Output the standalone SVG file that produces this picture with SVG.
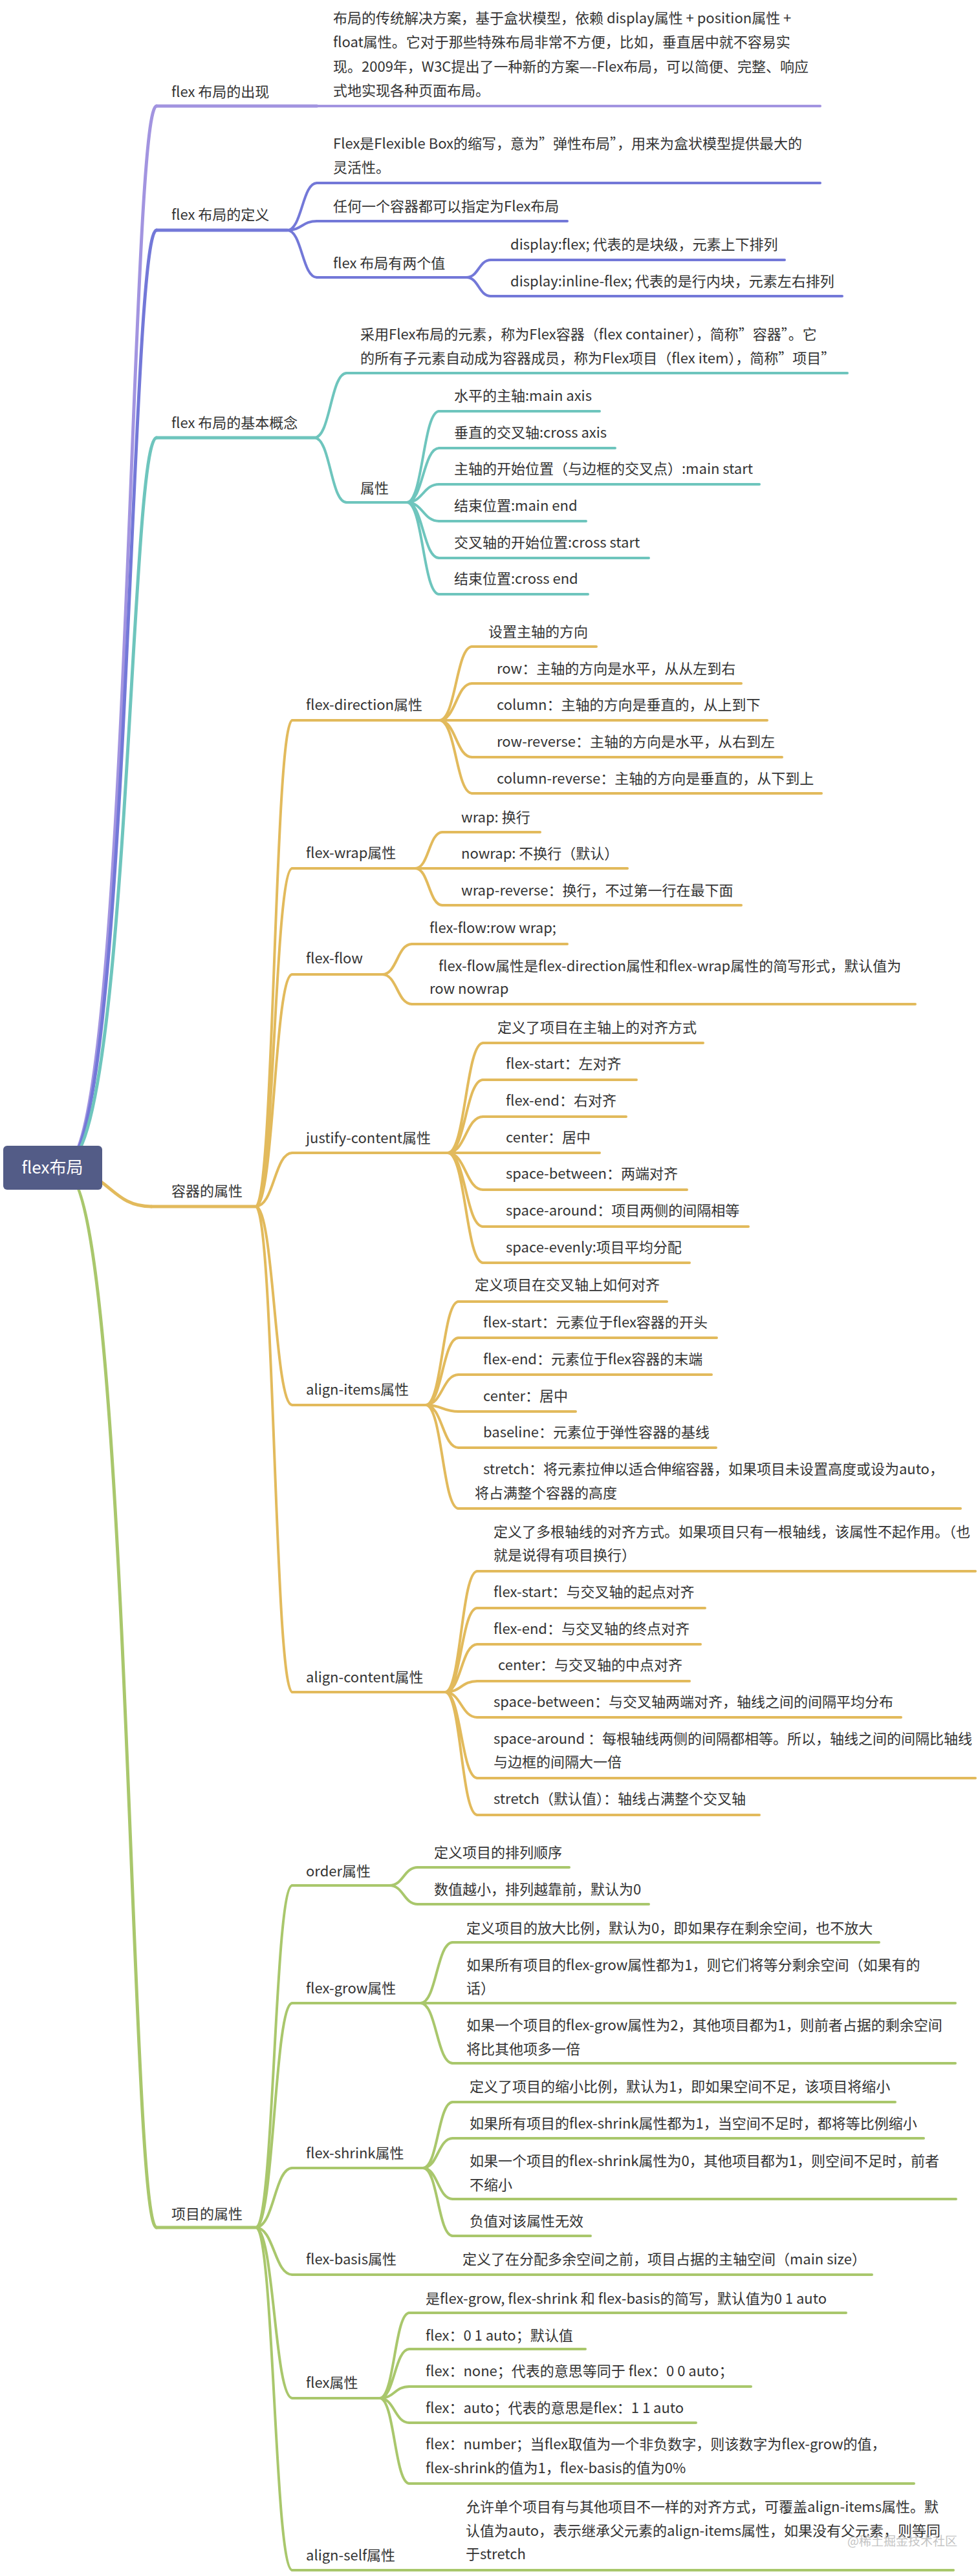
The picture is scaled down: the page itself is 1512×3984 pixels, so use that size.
<svg xmlns="http://www.w3.org/2000/svg" width="1512" height="3984" viewBox="0 0 1512 3984">
<style>
text{font-family:"Noto Sans CJK SC","Liberation Sans",sans-serif;font-size:22px;fill:#333}
.u,.k{fill:none;stroke-width:4;stroke-linecap:round}
.p{stroke:#a294e0}.b{stroke:#7378d8}.t{stroke:#6ec5bd}.g{stroke:#e2ba5c}.n{stroke:#a9c76c}
.L{stroke-width:5}
.wm{font-size:19px;fill:#c4c4c4}
</style>
<rect width="1512" height="3984" fill="#fff"/>
<g id="connectors">
<path class="k L p" d="M100 1800C200 1800 200 164 242 164"/>
<path class="k L b" d="M100 1800C200 1800 200 356 242 356"/>
<path class="k L t" d="M100 1800C200 1800 200 677 242 677"/>
<path class="k L g" d="M100 1810C170 1810 170 1866 234 1866"/>
<path class="k L n" d="M100 1812C200 1812 200 3445 242 3445"/>
<path class="k b" d="M444 356C467 356 467 283 490 283M444 356C467 356 467 342 490 342M444 356C467 356 467 429 490 429"/>
<path class="k b" d="M721 429C740 429 740 402 759 402M721 429C740 429 740 458 759 458"/>
<path class="k t" d="M486 677C511 677 511 577 536 577M486 677C511 677 511 777 536 777"/>
<path class="k t" d="M629 777C654 777 654 636 679 636M629 777C654 777 654 693 679 693M629 777C654 777 654 749 679 749M629 777C654 777 654 806 679 806M629 777C654 777 654 863 679 863M629 777C654 777 654 919 679 919"/>
<path class="k g" d="M395 1866C424 1866 424 1114 452 1114M395 1866C424 1866 424 1343 452 1343M395 1866C424 1866 424 1507 452 1507M395 1866C424 1866 424 1783 452 1783M395 1866C424 1866 424 2173 452 2173M395 1866C424 1866 424 2617 452 2617"/>
<path class="k g" d="M679 1114C705 1114 705 1000 730 1000M679 1114C705 1114 705 1057 730 1057M679 1114C705 1114 705 1171 730 1171M679 1114C705 1114 705 1227 730 1227"/>
<path class="k g" d="M642 1343C663 1343 663 1287 684 1287M642 1343C663 1343 663 1400 684 1400"/>
<path class="k g" d="M591 1507C614 1507 614 1460 637 1460M591 1507C614 1507 614 1553 637 1553"/>
<path class="k g" d="M692 1783C720 1783 720 1613 747 1613M692 1783C720 1783 720 1670 747 1670M692 1783C720 1783 720 1727 747 1727M692 1783C720 1783 720 1840 747 1840M692 1783C720 1783 720 1897 747 1897M692 1783C720 1783 720 1953 747 1953"/>
<path class="k g" d="M658 2173C684 2173 684 2013 709 2013M658 2173C684 2173 684 2069 709 2069M658 2173C684 2173 684 2126 709 2126M658 2173C684 2173 684 2183 709 2183M658 2173C684 2173 684 2239 709 2239M658 2173C684 2173 684 2333 709 2333"/>
<path class="k g" d="M688 2617C713 2617 713 2430 738 2430M688 2617C713 2617 713 2487 738 2487M688 2617C713 2617 713 2543 738 2543M688 2617C713 2617 713 2600 738 2600M688 2617C713 2617 713 2656 738 2656M688 2617C713 2617 713 2750 738 2750M688 2617C713 2617 713 2807 738 2807"/>
<path class="k n" d="M395 3445C424 3445 424 2916 452 2916M395 3445C424 3445 424 3098 452 3098M395 3445C424 3445 424 3353 452 3353M395 3445C424 3445 424 3518 452 3518M395 3445C424 3445 424 3709 452 3709M395 3445C424 3445 424 3975 452 3975"/>
<path class="k n" d="M602 2916C624 2916 624 2888 646 2888M602 2916C624 2916 624 2945 646 2945"/>
<path class="k n" d="M650 3098C675 3098 675 3004 700 3004M650 3098C675 3098 675 3191 700 3191"/>
<path class="k n" d="M654 3353C677 3353 677 3251 700 3251M654 3353C677 3353 677 3307 700 3307M654 3353C677 3353 677 3401 700 3401M654 3353C677 3353 677 3458 700 3458"/>
<path class="k n" d="M587 3709C610 3709 610 3577 633 3577M587 3709C610 3709 610 3633 633 3633M587 3709C610 3709 610 3691 633 3691M587 3709C610 3709 610 3747 633 3747M587 3709C610 3709 610 3841 633 3841"/>
</g>
<g id="root">
<rect x="5" y="1772" width="153" height="68" rx="6" fill="#535c87"/>
<text x="81" y="1815" text-anchor="middle" style="fill:#fff;font-size:26px">flex布局</text>
</g>
<g id="n1"><text x="265" y="150">flex 布局的出现</text><path class="u L p" d="M242 164H490"/></g>
<g id="n1-1"><text x="515" y="36">布局的传统解决方案，基于盒状模型，依赖 display属性 + position属性 +</text><text x="515" y="73">float属性。它对于那些特殊布局非常不方便，比如，垂直居中就不容易实</text><text x="515" y="111">现。2009年，W3C提出了一种新的方案—-Flex布局，可以简便、完整、响应</text><text x="515" y="148">式地实现各种页面布局。</text><path class="u p" d="M490 164H1268"/></g>
<g id="n2"><text x="265" y="340">flex 布局的定义</text><path class="u L b" d="M242 356H444"/></g>
<g id="n2-1"><text x="515" y="230">Flex是Flexible Box的缩写，意为”弹性布局”，用来为盒状模型提供最大的</text><text x="515" y="267">灵活性。</text><path class="u b" d="M490 283H1268"/></g>
<g id="n2-2"><text x="515" y="327">任何一个容器都可以指定为Flex布局</text><path class="u b" d="M490 342H877"/></g>
<g id="n2-3"><text x="515" y="415">flex 布局有两个值</text><path class="u b" d="M490 429H721"/></g>
<g id="n2-3-1"><text x="789" y="386">display:flex; 代表的是块级，元素上下排列</text><path class="u b" d="M759 402H1213"/></g>
<g id="n2-3-2"><text x="789" y="443">display:inline-flex; 代表的是行内块，元素左右排列</text><path class="u b" d="M759 458H1302"/></g>
<g id="n3"><text x="265" y="662">flex 布局的基本概念</text><path class="u L t" d="M242 677H486"/></g>
<g id="n3-1"><text x="557" y="525">采用Flex布局的元素，称为Flex容器（flex container），简称”容器”。它</text><text x="557" y="562">的所有子元素自动成为容器成员，称为Flex项目（flex item），简称”项目”</text><path class="u t" d="M536 577H1310"/></g>
<g id="n3-2"><text x="557" y="763">属性</text><path class="u t" d="M536 777H629"/></g>
<g id="n3-2-1"><text x="702" y="620">水平的主轴:main axis</text><path class="u t" d="M679 636H927"/></g>
<g id="n3-2-2"><text x="702" y="677">垂直的交叉轴:cross axis</text><path class="u t" d="M679 693H951"/></g>
<g id="n3-2-3"><text x="702" y="733">主轴的开始位置（与边框的交叉点）:main start</text><path class="u t" d="M679 749H1174"/></g>
<g id="n3-2-4"><text x="702" y="790">结束位置:main end</text><path class="u t" d="M679 806H906"/></g>
<g id="n3-2-5"><text x="702" y="847">交叉轴的开始位置:cross start</text><path class="u t" d="M679 863H1003"/></g>
<g id="n3-2-6"><text x="702" y="903">结束位置:cross end</text><path class="u t" d="M679 919H909"/></g>
<g id="n4"><text x="265" y="1850">容器的属性</text><path class="u L g" d="M234 1866H395"/></g>
<g id="n4-1"><text x="473" y="1098">flex-direction属性</text><path class="u g" d="M452 1114H679"/></g>
<g id="n4-1-1"><text x="755" y="985">设置主轴的方向</text><path class="u g" d="M730 1000H922"/></g>
<g id="n4-1-2"><text x="768" y="1042">row：主轴的方向是水平，从从左到右</text><path class="u g" d="M730 1057H1146"/></g>
<g id="n4-1-3"><text x="768" y="1098">column：主轴的方向是垂直的，从上到下</text><path class="u g" d="M679 1114H1186"/></g>
<g id="n4-1-4"><text x="768" y="1155">row-reverse：主轴的方向是水平，从右到左</text><path class="u g" d="M730 1171H1209"/></g>
<g id="n4-1-5"><text x="768" y="1212">column-reverse：主轴的方向是垂直的，从下到上</text><path class="u g" d="M730 1227H1270"/></g>
<g id="n4-2"><text x="473" y="1327">flex-wrap属性</text><path class="u g" d="M452 1343H642"/></g>
<g id="n4-2-1"><text x="713" y="1272">wrap: 换行</text><path class="u g" d="M684 1287H835"/></g>
<g id="n4-2-2"><text x="713" y="1328">nowrap: 不换行（默认）</text><path class="u g" d="M642 1343H970"/></g>
<g id="n4-2-3"><text x="713" y="1385">wrap-reverse：换行，不过第一行在最下面</text><path class="u g" d="M684 1400H1146"/></g>
<g id="n4-3"><text x="473" y="1490">flex-flow</text><path class="u g" d="M452 1507H591"/></g>
<g id="n4-3-1"><text x="664" y="1443">flex-flow:row wrap;</text><path class="u g" d="M637 1460H877"/></g>
<g id="n4-3-2"><text x="678" y="1502">flex-flow属性是flex-direction属性和flex-wrap属性的简写形式，默认值为</text><text x="664" y="1537">row nowrap</text><path class="u g" d="M637 1553H1415"/></g>
<g id="n4-4"><text x="473" y="1768">justify-content属性</text><path class="u g" d="M452 1783H692"/></g>
<g id="n4-4-1"><text x="769" y="1597">定义了项目在主轴上的对齐方式</text><path class="u g" d="M747 1613H1087"/></g>
<g id="n4-4-2"><text x="782" y="1653">flex-start：左对齐</text><path class="u g" d="M747 1670H984"/></g>
<g id="n4-4-3"><text x="782" y="1710">flex-end：右对齐</text><path class="u g" d="M747 1727H968"/></g>
<g id="n4-4-4"><text x="782" y="1767">center：居中</text><path class="u g" d="M692 1783H927"/></g>
<g id="n4-4-5"><text x="782" y="1823">space-between：两端对齐</text><path class="u g" d="M747 1840H1062"/></g>
<g id="n4-4-6"><text x="782" y="1880">space-around：项目两侧的间隔相等</text><path class="u g" d="M747 1897H1157"/></g>
<g id="n4-4-7"><text x="782" y="1937">space-evenly:项目平均分配</text><path class="u g" d="M747 1953H1066"/></g>
<g id="n4-5"><text x="473" y="2157">align-items属性</text><path class="u g" d="M452 2173H658"/></g>
<g id="n4-5-1"><text x="734" y="1995">定义项目在交叉轴上如何对齐</text><path class="u g" d="M709 2013H1031"/></g>
<g id="n4-5-2"><text x="747" y="2053">flex-start：元素位于flex容器的开头</text><path class="u g" d="M709 2069H1108"/></g>
<g id="n4-5-3"><text x="747" y="2110">flex-end：元素位于flex容器的末端</text><path class="u g" d="M709 2126H1100"/></g>
<g id="n4-5-4"><text x="747" y="2167">center：居中</text><path class="u g" d="M709 2183H890"/></g>
<g id="n4-5-5"><text x="747" y="2223">baseline：元素位于弹性容器的基线</text><path class="u g" d="M709 2239H1107"/></g>
<g id="n4-5-6"><text x="747" y="2280">stretch：将元素拉伸以适合伸缩容器，如果项目未设置高度或设为auto，</text><text x="734" y="2317">将占满整个容器的高度</text><path class="u g" d="M709 2333H1485"/></g>
<g id="n4-6"><text x="473" y="2602">align-content属性</text><path class="u g" d="M452 2617H688"/></g>
<g id="n4-6-1"><text x="763" y="2377">定义了多根轴线的对齐方式。如果项目只有一根轴线，该属性不起作用。（也</text><text x="763" y="2413">就是说得有项目换行）</text><path class="u g" d="M738 2430H1508"/></g>
<g id="n4-6-2"><text x="763" y="2470">flex-start：与交叉轴的起点对齐</text><path class="u g" d="M738 2487H1090"/></g>
<g id="n4-6-3"><text x="763" y="2527">flex-end：与交叉轴的终点对齐</text><path class="u g" d="M738 2543H1083"/></g>
<g id="n4-6-4"><text x="770" y="2583">center：与交叉轴的中点对齐</text><path class="u g" d="M738 2600H1066"/></g>
<g id="n4-6-5"><text x="763" y="2640">space-between：与交叉轴两端对齐，轴线之间的间隔平均分布</text><path class="u g" d="M738 2656H1393"/></g>
<g id="n4-6-6"><text x="763" y="2697">space-around ：每根轴线两侧的间隔都相等。所以，轴线之间的间隔比轴线</text><text x="763" y="2733">与边框的间隔大一倍</text><path class="u g" d="M738 2750H1508"/></g>
<g id="n4-6-7"><text x="763" y="2790">stretch（默认值）：轴线占满整个交叉轴</text><path class="u g" d="M738 2807H1174"/></g>
<g id="n5"><text x="265" y="3432">项目的属性</text><path class="u L n" d="M242 3445H395"/></g>
<g id="n5-1"><text x="473" y="2902">order属性</text><path class="u n" d="M452 2916H602"/></g>
<g id="n5-1-1"><text x="671" y="2873">定义项目的排列顺序</text><path class="u n" d="M646 2888H880"/></g>
<g id="n5-1-2"><text x="671" y="2930">数值越小，排列越靠前，默认为0</text><path class="u n" d="M646 2945H1003"/></g>
<g id="n5-2"><text x="473" y="3083">flex-grow属性</text><path class="u n" d="M452 3098H650"/></g>
<g id="n5-2-1"><text x="721" y="2990">定义项目的放大比例，默认为0，即如果存在剩余空间，也不放大</text><path class="u n" d="M700 3004H1359"/></g>
<g id="n5-2-2"><text x="721" y="3047">如果所有项目的flex-grow属性都为1，则它们将等分剩余空间（如果有的</text><text x="721" y="3083">话）</text><path class="u n" d="M650 3098H1477"/></g>
<g id="n5-2-3"><text x="721" y="3140">如果一个项目的flex-grow属性为2，其他项目都为1，则前者占据的剩余空间</text><text x="721" y="3177">将比其他项多一倍</text><path class="u n" d="M700 3191H1477"/></g>
<g id="n5-3"><text x="473" y="3338">flex-shrink属性</text><path class="u n" d="M452 3353H654"/></g>
<g id="n5-3-1"><text x="726" y="3235">定义了项目的缩小比例，默认为1，即如果空间不足，该项目将缩小</text><path class="u n" d="M700 3251H1384"/></g>
<g id="n5-3-2"><text x="726" y="3292">如果所有项目的flex-shrink属性都为1，当空间不足时，都将等比例缩小</text><path class="u n" d="M700 3307H1428"/></g>
<g id="n5-3-3"><text x="726" y="3350">如果一个项目的flex-shrink属性为0，其他项目都为1，则空间不足时，前者</text><text x="726" y="3387">不缩小</text><path class="u n" d="M700 3401H1478"/></g>
<g id="n5-3-4"><text x="726" y="3443">负值对该属性无效</text><path class="u n" d="M700 3458H913"/></g>
<g id="n5-4"><text x="473" y="3502">flex-basis属性</text><path class="u n" d="M452 3518H600"/></g>
<g id="n5-4-1"><text x="715" y="3502">定义了在分配多余空间之前，项目占据的主轴空间（main size）</text><path class="u n" d="M600 3518H1348"/></g>
<g id="n5-5"><text x="473" y="3693">flex属性</text><path class="u n" d="M452 3709H587"/></g>
<g id="n5-5-1"><text x="658" y="3563">是flex-grow, flex-shrink 和 flex-basis的简写，默认值为0 1 auto</text><path class="u n" d="M633 3577H1308"/></g>
<g id="n5-5-2"><text x="658" y="3620">flex：0 1 auto；默认值</text><path class="u n" d="M633 3633H905"/></g>
<g id="n5-5-3"><text x="658" y="3675">flex：none；代表的意思等同于 flex：0 0 auto；</text><path class="u n" d="M633 3691H1161"/></g>
<g id="n5-5-4"><text x="658" y="3732">flex：auto；代表的意思是flex：1 1 auto</text><path class="u n" d="M633 3747H1076"/></g>
<g id="n5-5-5"><text x="658" y="3788">flex：number；当flex取值为一个非负数字，则该数字为flex-grow的值，</text><text x="658" y="3825">flex-shrink的值为1，flex-basis的值为0%</text><path class="u n" d="M633 3841H1413"/></g>
<g id="n5-6"><text x="473" y="3960">align-self属性</text><path class="u n" d="M452 3975H610"/></g>
<g id="n5-6-1"><text x="720" y="3885">允许单个项目有与其他项目不一样的对齐方式，可覆盖align-items属性。默</text><text x="720" y="3922">认值为auto，表示继承父元素的align-items属性，如果没有父元素，则等同</text><text x="720" y="3958">于stretch</text><path class="u n" d="M610 3975H1474"/></g>
<text class="wm" x="1310" y="3937">@稀土掘金技术社区</text>
</svg>
